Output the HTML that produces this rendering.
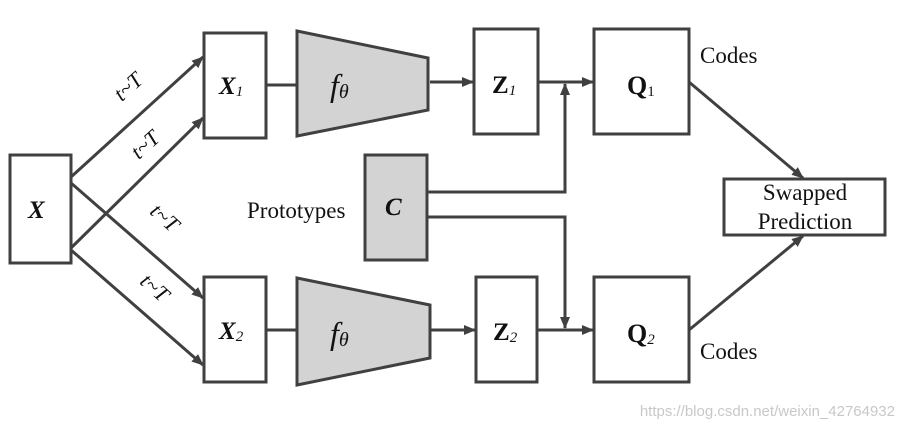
<!DOCTYPE html>
<html><head><meta charset="utf-8"><style>body{margin:0;background:#fff}svg{display:block}</style></head><body>
<svg width="905" height="427" viewBox="0 0 905 427" xmlns="http://www.w3.org/2000/svg" font-family="Liberation Serif, serif">
<defs><marker id="a" markerWidth="12" markerHeight="12" refX="11" refY="6" orient="auto" markerUnits="userSpaceOnUse"><path d="M0,1 L12,6 L0,11 Z" fill="#404040"/></marker></defs>
<g stroke="#404040" stroke-width="3" fill="none">
<rect x="10" y="155" width="61" height="108" fill="#fff"/>
<rect x="204" y="33" width="62" height="105" fill="#fff"/>
<rect x="204" y="277" width="62" height="105" fill="#fff"/>
<polygon points="297,31 428,58 428,110 297,136" fill="#d3d3d3"/>
<polygon points="297,278 430,305 430,358 297,385" fill="#d3d3d3"/>
<rect x="365" y="155" width="62" height="105" fill="#d3d3d3"/>
<rect x="474" y="29" width="64" height="105" fill="#fff"/>
<rect x="476" y="277" width="61" height="105" fill="#fff"/>
<rect x="594" y="29" width="95" height="105" fill="#fff"/>
<rect x="594" y="277" width="95" height="105" fill="#fff"/>
<rect x="724" y="179" width="161" height="56" fill="#fff"/>
<line x1="71" y1="177" x2="203" y2="57" marker-end="url(#a)"/>
<line x1="71" y1="248" x2="203" y2="118" marker-end="url(#a)"/>
<line x1="71" y1="183" x2="203" y2="298" marker-end="url(#a)"/>
<line x1="71" y1="250" x2="203" y2="365" marker-end="url(#a)"/>
<line x1="266" y1="85" x2="297" y2="85"/>
<line x1="266" y1="330" x2="297" y2="330"/>
<line x1="430" y1="82" x2="473" y2="82" marker-end="url(#a)"/>
<line x1="430" y1="330" x2="475" y2="330" marker-end="url(#a)"/>
<line x1="538" y1="82" x2="593" y2="82" marker-end="url(#a)"/>
<line x1="537" y1="330" x2="593" y2="330" marker-end="url(#a)"/>
<polyline points="427,192 565,192 565,84" marker-end="url(#a)"/>
<polyline points="427,217 565,217 565,328" marker-end="url(#a)"/>
<line x1="689" y1="82" x2="803" y2="178" marker-end="url(#a)"/>
<line x1="689" y1="330" x2="803" y2="236" marker-end="url(#a)"/>
</g>
<g fill="#111" font-size="23">
<text x="28" y="218" font-weight="bold" font-style="italic" font-size="25">X</text>
<text x="219" y="94" font-weight="bold" font-style="italic" font-size="25">X<tspan font-size="15" font-weight="normal" dy="2">1</tspan></text>
<text x="219" y="339" font-weight="bold" font-style="italic" font-size="25">X<tspan font-size="15" font-weight="normal" dy="2">2</tspan></text>
<text x="385" y="215" font-weight="bold" font-style="italic" font-size="25">C</text>
<text x="492" y="93" font-weight="bold" font-size="25">Z<tspan font-size="15" font-style="italic" font-weight="normal" dy="2">1</tspan></text>
<text x="493" y="340" font-weight="bold" font-size="25">Z<tspan font-size="15" font-style="italic" font-weight="normal" dy="2">2</tspan></text>
<text x="627" y="94" font-weight="bold" font-size="26">Q<tspan font-size="15" font-weight="normal" dy="2">1</tspan></text>
<text x="627" y="342" font-weight="bold" font-size="26">Q<tspan font-size="15" font-style="italic" font-weight="normal" dy="2">2</tspan></text>
<text x="330" y="96" font-style="italic" font-size="32">f<tspan font-size="20" dy="2">θ</tspan></text>
<text x="330" y="344" font-style="italic" font-size="32">f<tspan font-size="20" dy="2">θ</tspan></text>
<text x="247" y="218">Prototypes</text>
<text x="700" y="63">Codes</text>
<text x="700" y="359">Codes</text>
<text x="805" y="200" text-anchor="middle">Swapped</text>
<text x="805" y="229" text-anchor="middle">Prediction</text>
<g font-style="italic" font-size="22">
<text transform="translate(133,92) rotate(-42)" text-anchor="middle">t~T</text>
<text transform="translate(150,150) rotate(-42)" text-anchor="middle">t~T</text>
<text transform="translate(160,223) rotate(42)" text-anchor="middle">t~T</text>
<text transform="translate(150,293) rotate(42)" text-anchor="middle">t~T</text>
</g>
</g>
<text x="895" y="416" text-anchor="end" font-family="Liberation Sans, sans-serif" font-size="15" fill="#c8c8c8">https://blog.csdn.net/weixin_42764932</text>
</svg>
</body></html>
